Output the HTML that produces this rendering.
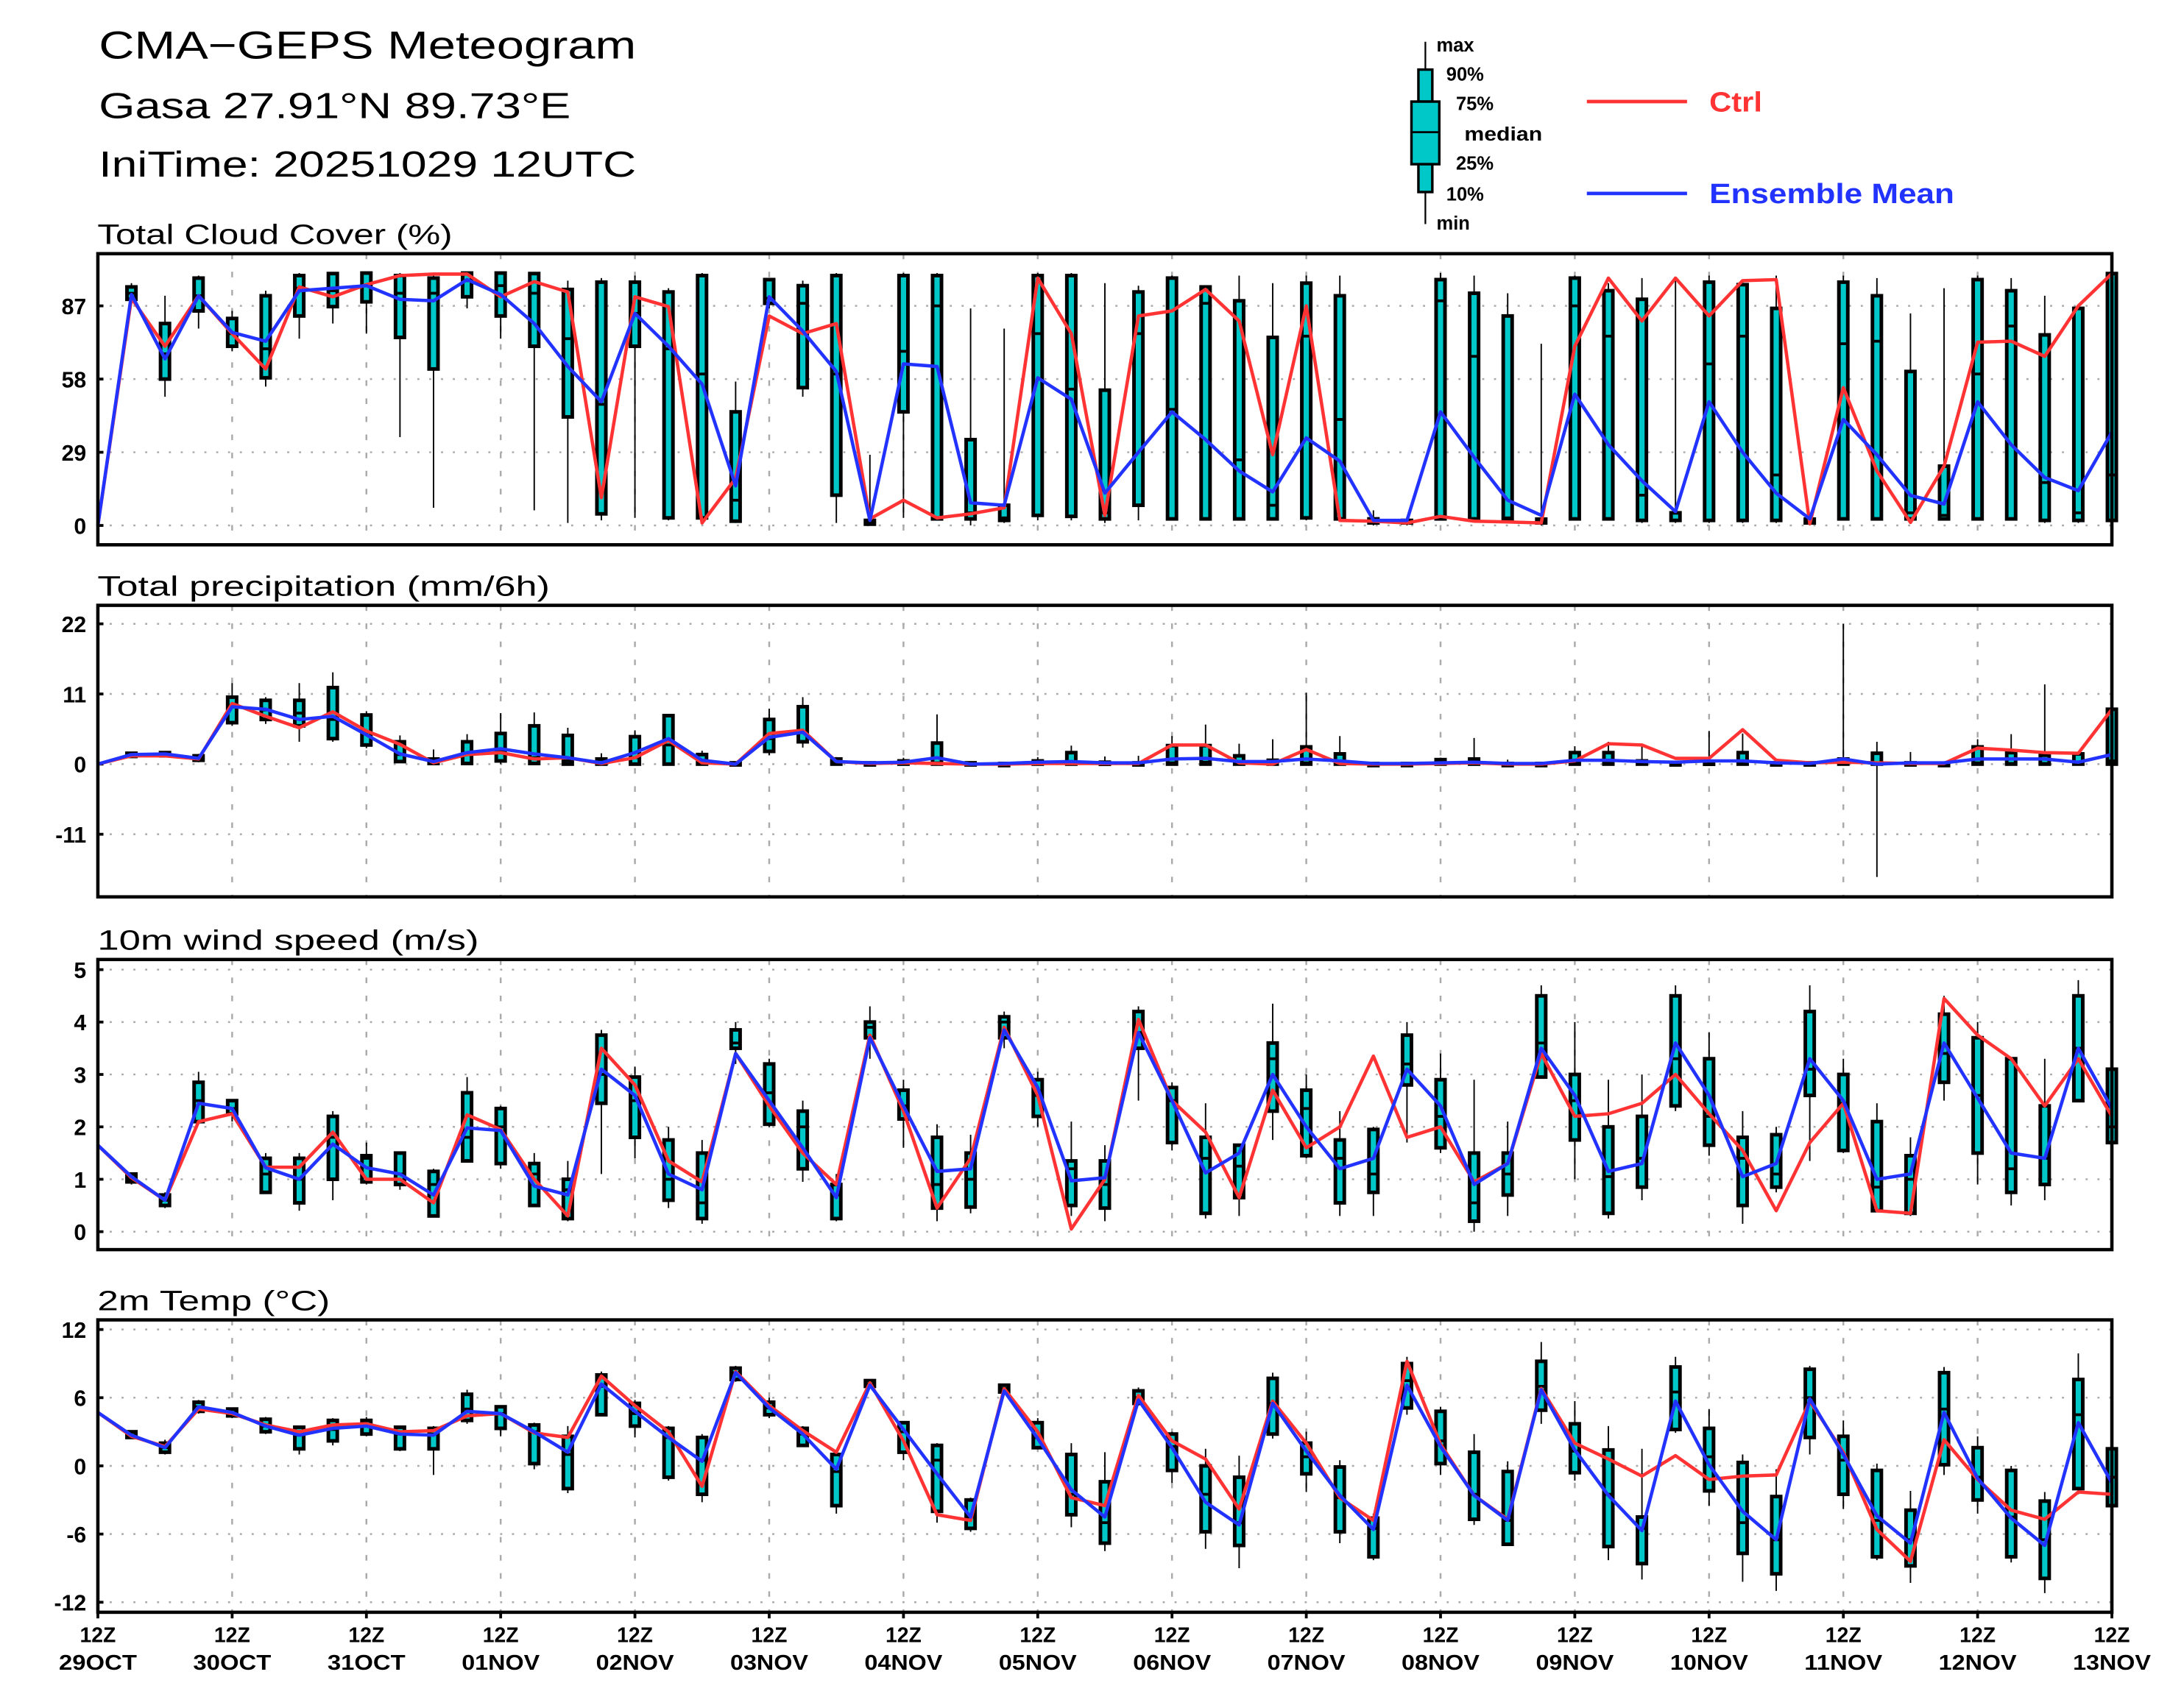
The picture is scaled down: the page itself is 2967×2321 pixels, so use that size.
<!DOCTYPE html>
<html><head><meta charset="utf-8"><style>
html,body{margin:0;padding:0;background:#fff;}
svg{display:block;}
text{font-family:"Liberation Sans",sans-serif;}
</style></head><body>
<svg id="chart" width="2967" height="2321" viewBox="0 0 1569 1227.4" xmlns="http://www.w3.org/2000/svg">
<rect x="0" y="0" width="1569" height="1227.4" fill="#fff"/>
<g>
<text x="71" y="42" font-size="28" textLength="386" lengthAdjust="spacingAndGlyphs">CMA−GEPS Meteogram</text>
<text x="71" y="85" font-size="26" textLength="339" lengthAdjust="spacingAndGlyphs">Gasa 27.91°N 89.73°E</text>
<text x="71" y="127" font-size="26" textLength="386" lengthAdjust="spacingAndGlyphs">IniTime: 20251029 12UTC</text>
</g>
<g>
<line x1="1024" y1="30" x2="1024" y2="161" stroke="#000" stroke-width="1.2"/>
<rect x="1019" y="50" width="10" height="23" fill="#00c8c8" stroke="#000" stroke-width="1.8"/>
<rect x="1014" y="73" width="20" height="45" fill="#00c8c8" stroke="#000" stroke-width="1.8"/>
<line x1="1014" y1="95" x2="1034" y2="95" stroke="#000" stroke-width="1.5"/>
<rect x="1019" y="118" width="10" height="20" fill="#00c8c8" stroke="#000" stroke-width="1.8"/>
<g font-size="13.5" font-weight="bold">
<text x="1032" y="37">max</text><text x="1039" y="58">90%</text><text x="1046" y="79">75%</text>
<text x="1052" y="101" textLength="56" lengthAdjust="spacingAndGlyphs">median</text><text x="1046" y="122">25%</text><text x="1039" y="144">10%</text><text x="1032" y="165">min</text>
</g>
</g>
<g>
<line x1="1140" y1="73" x2="1212" y2="73" stroke="#f33" stroke-width="2.5"/>
<text x="1228" y="80" font-size="20" font-weight="bold" fill="#f33" textLength="38" lengthAdjust="spacingAndGlyphs">Ctrl</text>
<line x1="1140" y1="139" x2="1212" y2="139" stroke="#23f" stroke-width="2.5"/>
<text x="1228" y="146" font-size="20" font-weight="bold" fill="#23f" textLength="176" lengthAdjust="spacingAndGlyphs">Ensemble Mean</text>
</g>
<g id="panels"></g>
</svg>
<script>
const days = ["29OCT","30OCT","31OCT","01NOV","02NOV","03NOV","04NOV","05NOV","06NOV","07NOV","08NOV","09NOV","10NOV","11NOV","12NOV","13NOV"];
const ccTicks = [87,58,29,0];
const prTicks = [22,11,0,-11];
const wsTicks = [5,4,3,2,1,0];
const tpTicks = [12,6,0,-6,-12];

const ccCtrl = [0,90,71,91,76,62,94.5,90.6,95.4,99,99.6,99.6,90.6,96.6,92.5,11,90.6,86.7,1,18.7,83,76,80,2.6,10,3,4.6,7,98,76,4,83,85,93.5,81,28,87,2,1.7,1,3.6,1.7,1.4,1,71,98,81,98,83,97,97.4,0.7,54.6,21.6,1.2,23.5,72.6,73,67,87,99.8];
const ccMean = [0,91.5,66,91,76.5,73,93,94,95,89.6,89,97.4,91.5,80,63,49,84,71,56,15.7,90.6,77,61,2,64,63,9,8,58.5,50,12.8,29,45,34,21.6,13.3,34.7,25.5,2,2,45,27,10,4,52,32,17.7,5.5,49,29,12.8,2.6,42,28,11.9,8.5,49,32,19,13.8,37];
const ccStats = [[0,0,0,0,0],[88,89.6,92,94.5,96],[51,58,68,80,91],[78,85,91,98,99],[69,71,76,82,85],[55,58.5,70,91,93],[74,83,94,99,100],[80,86.7,93,99.8,100],[76,88.6,95,100,100],[35,74.5,92,99,100],
[7,62,92,98,100],[86,90.6,97,100,100],[74,83,95,100,100],[6,71,92,99.8,100],[1,43,74,93.5,97],[2,4.6,48,96.4,98],[3,71,84,96.4,99],[2,3,70,92.5,94],[1,3,60,99,100],[1,1.7,10,45,57],
[86,88,90,97.4,98],[51,54.6,88,95,97],[1,12,60,99,100],[0,0.5,1,2,28],[3,45,69,99,100],[2,2.6,87,99,100],[0,2.6,5,34,86],[1,2,3,8,78],[2,4,76,99,100],[2,3.6,54,99,100],
[1,2.6,5,53.6,96],[2,8,76,92.5,95],[2,2.6,46,98,99],[2,2.6,88,94.5,95],[2,2.6,26,89,99],[2,2.6,8,74.5,96],[2,3,75,96,99],[2,2.6,42,91,99],[0,1,1.5,2.6,6],[0,1,1.5,2,2],
[2,2.6,89,97.4,100],[2,2.6,67,92,99],[1,2,3,83,92],[0,1,1.5,2.5,72],[2,2.6,87,98,99],[2,2.6,75,93,96],[1,2,12,89.6,98],[1,2,2,5,98],[1,2,64,96.4,99],[1,2,75,95.4,97],
[1,2,20,86,99],[0,1,1.5,2.5,3],[2,2.6,72,96.4,99],[2,2.6,73,91,98],[2,2.6,5,61,84],[2,2.6,4,23.5,94],[2,2.6,60,97.4,99],[2,2.6,79,93,98],[1,2,17,75.5,91],[1,2,5,86,87],[1,2,20,99.8,100]];

const prCtrl = [0,1.3,1.3,0.8,9.5,7.5,5.7,8.2,5.2,3.1,0.2,1.5,1.8,0.8,1.0,0.1,1.0,3.7,0.2,0,4.8,5.3,0.4,0.1,0.2,0.1,0,0,0.1,0.1,0.1,0.1,3.0,3.0,0.2,0,2.3,0.1,0,0,0.1,0.2,0,0,0.5,3.2,3.0,0.9,0.9,5.4,0.6,0.2,0.3,0.2,0.1,0.1,2.5,2.2,1.8,1.7,8.6];
const prMean = [0,1.5,1.6,0.9,9.0,8.6,7.0,7.5,4.6,1.6,0.4,1.8,2.4,1.6,1.0,0.2,1.8,4.0,0.6,0,4.2,5.0,0.4,0.2,0.3,1.0,0,0.1,0.3,0.4,0.2,0.2,0.8,0.9,0.4,0.4,0.8,0.5,0.1,0.1,0.2,0.3,0.1,0.1,0.6,0.6,0.4,0.3,0.5,0.5,0.2,0.1,0.8,0,0.2,0.2,0.8,0.8,0.8,0.3,1.5];
const prStats = [[0,0,0,0,0],[1,1.2,1.4,1.7,1.8],[1.1,1.3,1.5,1.8,2],[0.3,0.6,0.9,1.3,1.6],[6,6.5,9,10.5,12.7],[6.3,7,8.5,10,10.5],[3.5,6,8,10,12.7],[3.5,4,7,12,14.4],[2.5,3,5,7.7,8.3],[0.2,0.4,1.5,3.5,4.5],
[0,0.1,0.2,0.8,2.3],[0,0.1,1.5,3.5,4.7],[0,0.5,2,4.8,8],[0,0.1,1,6,8.1],[0,0,0.5,4.5,5.7],[0,0,0.1,0.8,1.7],[0,0,1,4.3,5.3],[0,0,3,7.6,7.6],[0,0,0.2,1.5,2.1],[0,0,0,0.2,0.3],
[1.4,2,4,7,8.7],[2.6,3.5,5,9,10.5],[0,0,0.1,0.8,1.1],[0,0,0,0.2,0.4],[0,0,0,0.5,1],[0,0,0.2,3.3,7.8],[0,0,0,0.2,0.4],[0,0,0,0.1,0.2],[0,0,0,0.5,1.1],[0,0,0.1,1.8,2.9],
[0,0,0,0.3,1.2],[0,0,0,0.2,1.3],[0,0,0.2,2.9,4.4],[0,0,0.3,2.9,6.2],[0,0,0,1.3,3.2],[0,0,0,0.6,3.9],[0,0,0.2,2.7,11.2],[0,0,0,1.6,4.4],[0,0,0,0.1,0.3],[0,0,0,0.1,0.2],
[0,0,0,0.7,1],[0,0,0,0.8,4.1],[0,0,0,0.1,0.7],[0,0,0,0.1,0.2],[0,0,0.2,1.8,2.8],[0,0,0.2,1.8,3.5],[0,0,0,0.5,2.9],[0,0,0,0.2,0.3],[0,0,0,0.3,5.2],[0,0,0.2,1.8,4.8],
[0,0,0,0.2,0.5],[0,0,0,0.2,0.3],[0,0,0,0.8,22],[-17.7,0,0,1.7,3.5],[0,0,0,0.2,1.9],[0,0,0,0.1,0.2],[0,0,0.2,2.7,3.9],[0,0,0.1,1.8,4.7],[0,0,0.1,1.4,12.5],[0,0,0.1,1.6,1.7],[0,0,0.5,8.6,8.7]];

const wsCtrl = [1.65,1.03,0.6,2.1,2.25,1.23,1.23,1.9,1.0,1.0,0.55,2.23,1.95,1.0,0.3,3.5,2.8,1.35,0.95,3.4,2.4,1.5,0.9,3.75,2.3,0.45,1.4,3.9,2.6,0.05,1.0,4.05,2.5,1.9,0.65,2.7,1.6,2.0,3.35,1.8,2.0,0.95,1.3,3.4,2.2,2.25,2.45,3.0,2.25,1.55,0.4,1.7,2.45,0.4,0.35,4.45,3.75,3.3,2.4,3.3,2.2];
const wsMean = [1.65,1.05,0.6,2.45,2.35,1.22,1.0,1.67,1.22,1.1,0.7,1.98,1.93,0.87,0.7,3.1,2.6,1.1,0.8,3.4,2.5,1.6,0.65,3.7,2.4,1.15,1.2,3.85,2.75,0.97,1.03,3.8,2.5,1.12,1.5,3.0,2.0,1.2,1.4,3.1,2.4,0.9,1.3,3.5,2.6,1.15,1.3,3.6,2.6,1.05,1.3,3.3,2.5,1.0,1.1,3.6,2.55,1.5,1.4,3.5,2.35];
const wsStats = [[1.6,1.62,1.65,1.68,1.7],[0.9,0.95,1.0,1.1,1.1],[0.45,0.5,0.6,0.7,0.75],[2.1,2.1,2.5,2.85,3.05],[2.1,2.25,2.35,2.5,2.5],[0.75,0.75,1.1,1.4,1.5],[0.4,0.55,1.0,1.4,1.5],[0.6,1.0,1.8,2.2,2.3],[0.9,0.95,1.4,1.45,1.7],[0.8,0.9,1.1,1.5,1.5],
[0.3,0.3,0.9,1.15,1.2],[1.35,1.35,1.8,2.65,2.95],[1.2,1.3,2.0,2.35,2.4],[0.5,0.5,1.1,1.3,1.5],[0.2,0.25,0.8,1.0,1.35],[1.1,2.45,3.0,3.75,3.85],[1.4,1.8,2.5,2.95,3.15],[0.45,0.6,1.0,1.75,2.0],[0.15,0.25,0.55,1.5,1.75],[3.2,3.5,3.6,3.85,4.0],
[2.0,2.05,2.65,3.2,3.3],[0.95,1.2,2.0,2.3,2.5],[0.2,0.25,0.7,0.9,1.1],[3.3,3.7,3.9,4.0,4.3],[1.6,2.15,2.4,2.7,2.9],[0.2,0.45,0.9,1.8,2.05],[0.35,0.47,1.0,1.5,1.85],[3.5,3.7,4.0,4.1,4.2],[2.0,2.2,2.6,2.9,3.05],[0.3,0.5,1.2,1.35,2.1],
[0.2,0.45,0.9,1.35,1.65],[2.5,3.5,3.8,4.2,4.3],[1.55,1.7,2.5,2.75,2.85],[0.25,0.35,1.4,1.8,2.45],[0.3,0.65,1.25,1.65,1.65],[1.75,2.3,3.3,3.6,4.35],[1.4,1.45,2.35,2.7,3.0],[0.3,0.55,1.4,1.75,2.3],[0.3,0.75,1.1,1.95,2.0],[1.7,2.8,3.2,3.75,4.0],
[1.5,1.6,2.2,2.9,3.4],[0.0,0.2,0.55,1.5,2.9],[0.3,0.7,1.1,1.5,2.1],[2.95,2.95,3.6,4.5,4.7],[1.0,1.75,2.5,3.0,4.0],[0.25,0.35,1.05,2.0,2.9],[0.6,0.85,1.4,2.2,3.0],[2.3,2.4,3.3,4.5,4.7],[1.45,1.65,2.2,3.3,3.8],[0.15,0.5,1.4,1.8,2.3],
[0.75,0.85,1.1,1.85,2.0],[1.35,2.6,3.1,4.2,4.7],[1.5,1.55,2.45,3.0,3.3],[0.4,0.4,0.85,2.1,2.45],[0.3,0.35,1.0,1.45,1.8],[2.5,2.85,3.4,4.15,4.5],[0.9,1.5,2.6,3.7,4.0],[0.5,0.75,1.2,3.3,3.3],[0.6,0.9,1.4,2.4,3.3],[2.5,2.5,3.5,4.5,4.8],[1.7,1.7,2.0,3.1,3.2]];

const tpCtrl = [4.7,2.6,1.7,5.0,4.6,3.6,3.0,3.6,3.7,3.0,3.1,4.4,4.6,2.9,2.5,7.9,5.3,3.0,-1.8,8.3,5.3,3.1,1.2,7.3,2.2,-4.3,-4.8,6.8,3.0,-2.8,-3.5,6.2,2.2,0.6,-3.8,5.7,2.0,-2.8,-4.8,9.2,1.9,-2.6,-4.7,6.8,2.0,0.6,-0.9,0.9,-1.2,-0.9,-0.8,5.7,1.2,-5.6,-8.4,2.3,-1.2,-3.9,-4.7,-2.3,-2.5];
const tpMean = [4.7,2.7,1.6,5.2,4.7,3.5,2.7,3.3,3.5,2.8,2.7,4.8,4.6,3.0,1.2,7.2,4.8,2.5,0.4,8.2,5.1,2.8,-0.3,7.1,3.2,-0.7,-4.5,6.6,2.4,-2.1,-4.5,5.8,1.6,-3.2,-5.2,5.5,1.3,-2.6,-5.6,7.1,1.7,-2.6,-4.8,6.7,1.4,-2.6,-5.7,5.7,0.1,-4.0,-6.5,5.9,1.0,-4.4,-6.8,4.7,-1.1,-4.6,-7.0,3.8,-1.5];
const tpStats = [[4.6,4.65,4.7,4.75,4.8],[2.4,2.5,2.7,3.0,3.1],[1.0,1.2,1.6,2.0,2.3],[4.6,4.8,5.2,5.6,5.8],[4.2,4.4,4.7,5.0,5.0],[2.8,3.0,3.5,4.1,4.3],[1.0,1.5,2.7,3.4,3.5],[1.8,2.2,3.2,4.0,4.2],[2.6,2.8,3.5,4.0,4.3],[1.3,1.5,2.8,3.4,3.5],
[-0.8,1.5,2.8,3.3,3.5],[3.7,4.0,5.0,6.3,6.7],[2.6,3.3,4.6,5.2,5.3],[-0.3,0.2,3.0,3.6,3.8],[-2.4,-2.0,1.0,2.6,3.5],[4.4,4.5,7.0,8.0,8.3],[2.5,3.5,4.6,5.5,5.8],[-1.3,-1.0,2.5,3.3,3.5],[-3.2,-2.5,0.5,2.5,2.8],[7.4,7.6,8.2,8.6,8.8],
[4.2,4.5,5.1,5.6,6.0],[1.8,1.8,2.8,3.3,3.5],[-4.2,-3.5,-0.5,1.0,1.2],[6.8,7.0,7.2,7.5,7.6],[0.5,1.2,3.0,3.8,3.8],[-5.0,-4.0,0.5,1.8,2.0],[-5.8,-5.5,-4.5,-3.0,-2.8],[6.4,6.5,6.8,7.1,7.2],[1.6,1.6,2.5,3.8,4.2],[-5.4,-4.3,-2.5,1.0,2.0],
[-7.5,-6.8,-5,-1.4,1.2],[5.3,5.5,6.0,6.6,6.9],[-1.5,-0.4,1.7,2.8,3.0],[-7.3,-5.8,-2.5,0,1.5],[-9,-7,-5,-1,0.9],[2.4,2.8,5.5,7.7,8.2],[-2.3,-0.7,0.8,2.0,3.0],[-6.8,-5.8,-2.8,-0.1,0.5],[-8.3,-8,-5.5,-4.6,-4.2],[4.5,5.1,7.5,9.0,9.6],
[-0.8,0.2,2.2,4.8,5.2],[-5.2,-4.7,-2.5,1.2,2.8],[-7,-6.9,-4.8,-0.5,0.4],[3.7,4.9,7.0,9.2,10.9],[-1.3,-0.6,1.3,3.7,5.7],[-8.3,-7.1,-2.5,1.4,3.5],[-10,-8.6,-5.5,-4.5,1.5],[2.9,3.2,6.5,8.7,9.6],[-3.5,-2.2,0.8,3.3,5.0],[-10.2,-7.7,-5,0.3,1.0],
[-11,-9.5,-6.5,-2.7,-0.3],[1.0,2.5,6.0,8.5,8.8],[-3.8,-2.5,0.5,2.6,4.0],[-8.3,-8,-4.8,-0.4,0.2],[-10.3,-8.8,-6.5,-3.9,-2.2],[-0.8,0.1,5,8.2,8.7],[-4.2,-3,-1,1.6,2.6],[-8.5,-8,-4.5,-0.4,0],[-11.2,-9.9,-6.5,-3.1,-2.3],[-2.5,-2.0,4.5,7.6,9.9],[-3.8,-3.5,-1,1.5,2.0]];

const NS = "http://www.w3.org/2000/svg";
const X0 = 70.3, X1 = 1517.2, NSTEP = 60;
function xScale(i){ return X0 + (X1 - X0) * i / NSTEP; }
function mk(tag, attrs, parent){ const e = document.createElementNS(NS, tag); for (const k in attrs) e.setAttribute(k, attrs[k]); parent.appendChild(e); return e; }

const root = document.getElementById('panels');

function panel(cfg){
  const g = mk('g', {}, root);
  
  
  const yS = v => cfg.y0 + (v - cfg.v0) * (cfg.y1 - cfg.y0) / (cfg.v1 - cfg.v0);
  const t = mk('text', {x: 70, y: cfg.top - 7, 'font-size': 20, textLength: cfg.titleW, lengthAdjust: 'spacingAndGlyphs'}, g);
  t.textContent = cfg.title;
  
  
  for (let d = 1; d < days.length - 1; d++) {
    const x = xScale(d * 4);
    const gl = mk('line', {x1: x, x2: x, y1: cfg.top, y2: cfg.bottom, stroke: '#aaa', 'stroke-width': 1.3, 'stroke-dasharray': '4,9'}, g);
    
    
  }
  cfg.ticks.forEach(v => {
    const y = yS(v);
    const hl = mk('line', {x1: X0, x2: X1, y1: y, y2: y, stroke: '#aaa', 'stroke-width': 1.3, 'stroke-dasharray': '1.5,7'}, g);
    
    
    mk('line', {x1: X0, x2: X0 + 4, y1: y, y2: y, stroke: '#000', 'stroke-width': 2}, g);
    const lt = mk('text', {x: 62, y: y + 6, 'font-size': 16, 'font-weight': 'bold', 'text-anchor': 'end'}, g);
    lt.textContent = v;
    
    
  });
  cfg.stats.forEach((s, i) => {
    if (i === 0) return;
    const x = xScale(i);
    const bg = mk('g', {}, g);
    
    
    mk('line', {x1: x, x2: x, y1: yS(s[0]), y2: yS(s[4]), stroke: '#000', 'stroke-width': 1}, bg);
    const ya = yS(s[3]), yb = yS(s[1]);
    mk('rect', {x: x - 3.2, y: Math.min(ya, yb), width: 6.4, height: Math.max(Math.abs(yb - ya), 1.5), fill: '#00c8c8', stroke: '#000', 'stroke-width': 2.6}, bg);
    mk('line', {x1: x - 3.2, x2: x + 3.2, y1: yS(s[2]), y2: yS(s[2]), stroke: '#000', 'stroke-width': 2}, bg);
  });
  const line = (arr, color, nm) => {
    const p = mk('polyline', {points: arr.map((v, i) => xScale(i).toFixed(2) + ',' + yS(v).toFixed(2)).join(' '), fill: 'none', stroke: color, 'stroke-width': 2.4, 'stroke-linejoin': 'round'}, g);
    
    
  };
  line(cfg.ctrl, '#f33', cfg.name + '-ctrl-line');
  line(cfg.mean, '#23f', cfg.name + '-mean-line');
  const fr = mk('rect', {x: X0, y: cfg.top, width: X1 - X0, height: cfg.bottom - cfg.top, fill: 'none', stroke: '#000', 'stroke-width': 2.4}, g);
  
  
  return g;
}

panel({name: 'cloud-cover', title: 'Total Cloud Cover (%)', titleW: 255, top: 182.3, bottom: 391.5, v0: 0, y0: 377.6, v1: 87, y1: 219.8, ticks: ccTicks, stats: ccStats, ctrl: ccCtrl, mean: ccMean});
panel({name: 'precipitation', title: 'Total precipitation (mm/6h)', titleW: 325, top: 435, bottom: 644.5, v0: 0, y0: 549.1, v1: 22, y1: 448.3, ticks: prTicks, stats: prStats, ctrl: prCtrl, mean: prMean});
panel({name: 'wind-speed', title: '10m wind speed (m/s)', titleW: 274, top: 689.5, bottom: 898, v0: 0, y0: 885.1, v1: 5, y1: 696.8, ticks: wsTicks, stats: wsStats, ctrl: wsCtrl, mean: wsMean});
panel({name: 'temperature', title: '2m Temp (°C)', titleW: 167, top: 948.5, bottom: 1158.6, v0: 12, y0: 955.4, v1: -12, y1: 1151.4, ticks: tpTicks, stats: tpStats, ctrl: tpCtrl, mean: tpMean});

const xg = mk('g', {}, root);


days.forEach((d, k) => {
  const x = xScale(k * 4);
  mk('line', {x1: x, x2: x, y1: 1158.6, y2: 1163, stroke: '#000', 'stroke-width': 2}, xg);
  const t1 = mk('text', {x: x, y: 1180, 'font-size': 15, 'font-weight': 'bold', 'text-anchor': 'middle'}, xg);
  t1.textContent = '12Z';
  
  
  const t2 = mk('text', {x: x, y: 1200, 'font-size': 15, 'font-weight': 'bold', 'text-anchor': 'middle', textLength: 56, lengthAdjust: 'spacingAndGlyphs'}, xg);
  t2.textContent = d;
  
  
});
</script>
</body></html>
